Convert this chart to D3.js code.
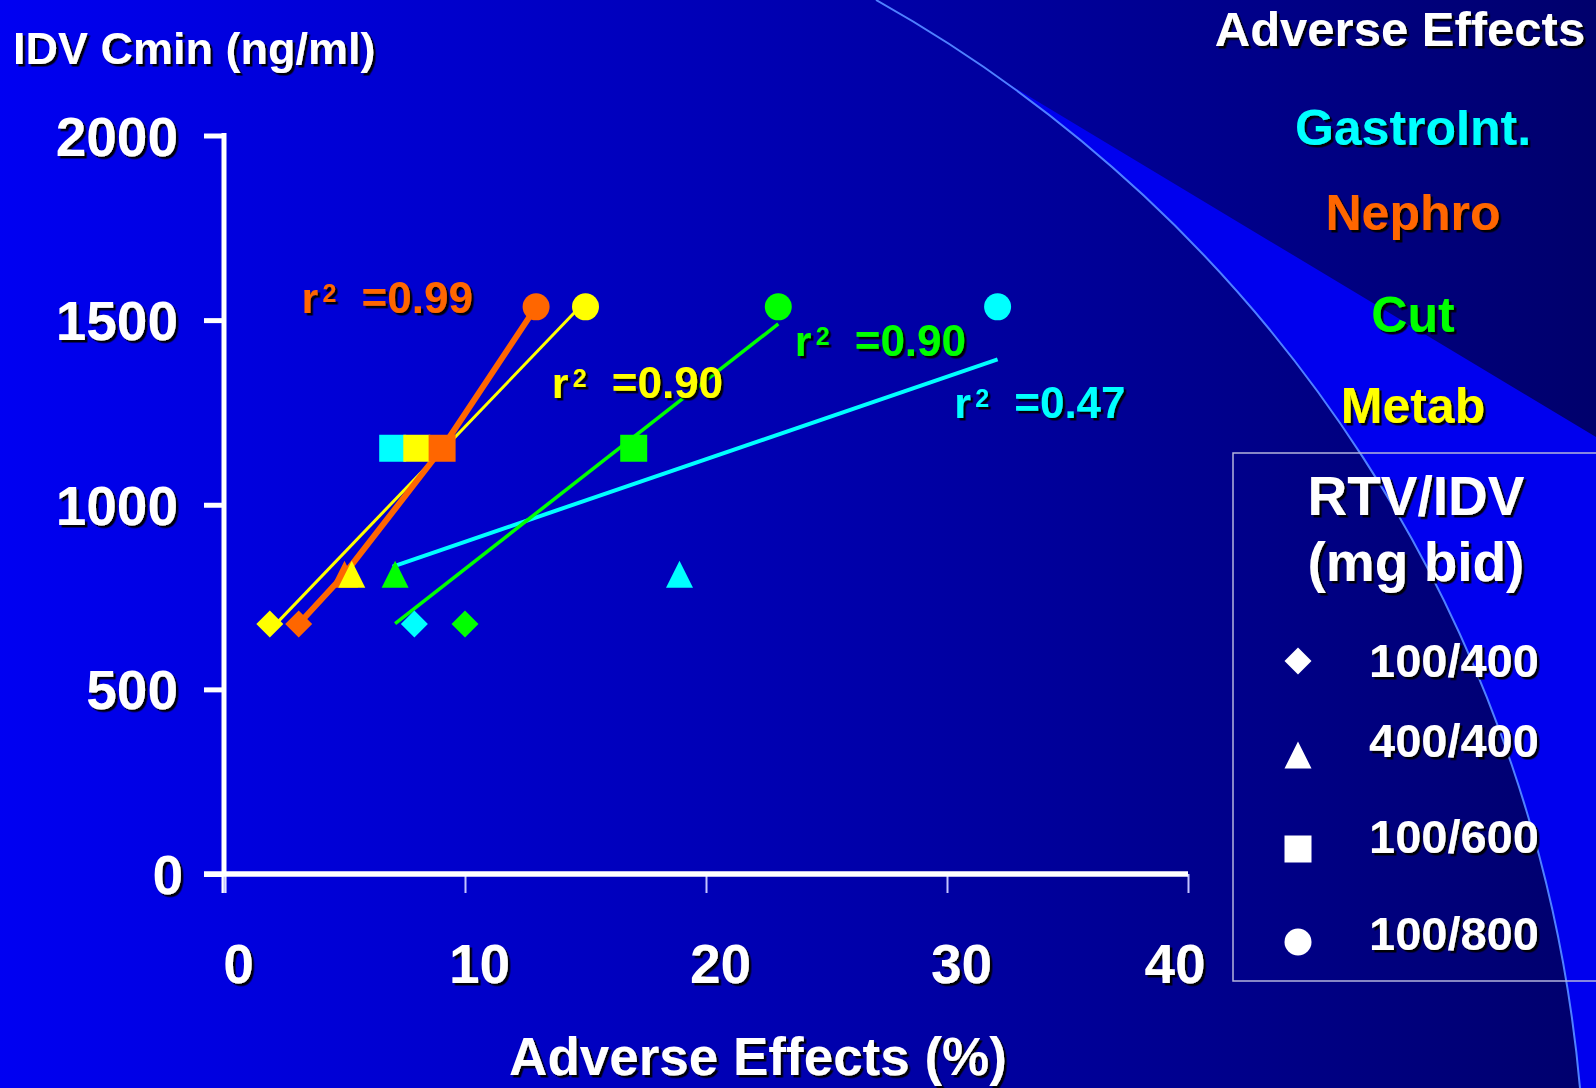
<!DOCTYPE html>
<html>
<head>
<meta charset="utf-8">
<script src="https://cdn.jsdelivr.net/npm/d3@7"></script>
<style>
  html, body { margin: 0; padding: 0; overflow: hidden; background: #000080; }
  text { font-family: "Liberation Sans", Arial, sans-serif; font-weight: bold; }
</style>
</head>
<body>
<div id="chart"></div>
<script>
// data
const doses = ['100/400', '400/400', '100/600', '100/800'];
const doseShapes = ['diamond', 'triangle', 'square', 'circle'];
const idvCmin = [677, 812, 1153, 1536];
const gastroAE = [7.9, 18.9, 7.0, 32.1];
const nephroAE = [3.1, 5.0, 9.05, 12.95];
const cutAE = [10.0, 7.1, 17.0, 23.0];
const metabAE = [1.9, 5.3, 8.0, 15.0];
const effectNames = ['GastroInt.', 'Nephro', 'Cut', 'Metab'];
const r2Values = ['=0.47', '=0.99', '=0.90', '=0.90'];
const xTicks = [0, 10, 20, 30, 40];
const yTicks = [0, 500, 1000, 1500, 2000];

const W = 1596, H = 1088;
const font = '"Liberation Sans", Arial, sans-serif';

const svg = d3.select('#chart').append('svg')
  .attr('width', W).attr('height', H);

const defs = svg.append('defs');
const grad = defs.append('linearGradient').attr('id', 'bg')
  .attr('x1', 0).attr('y1', 0).attr('x2', 1).attr('y2', 0);
grad.append('stop').attr('offset', '0%').attr('stop-color', '#0000f2');
grad.append('stop').attr('offset', '100%').attr('stop-color', '#00006c');

defs.append('filter').attr('id', 'sh')
  .attr('x', '-10%').attr('y', '-10%').attr('width', '130%').attr('height', '140%')
  .append('feDropShadow')
  .attr('dx', 2.5).attr('dy', 2.5).attr('stdDeviation', 0.4)
  .attr('flood-color', '#000').attr('flood-opacity', 0.95);

// background
svg.append('rect').attr('width', W).attr('height', H).attr('fill', 'url(#bg)');

// bright wedge right of the arc, below the diagonal
const R = 1389;
svg.append('path')
  .attr('d', `M995,76 L${W},437 L${W},${H} L1580,${H} A${R},${R} 0 0 0 995,76 Z`)
  .attr('fill', '#0000ee');
svg.append('path')
  .attr('d', `M876,0 A${R},${R} 0 0 1 1580,${H}`)
  .attr('fill', 'none').attr('stroke', '#4f80ff').attr('stroke-width', 2);

// scales
const x = d3.scaleLinear().domain([0, 40]).range([224, 1188]);
const y = d3.scaleLinear().domain([0, 2000]).range([874, 135.5]);

// y axis
const gy = svg.append('g').attr('transform', `translate(${x(0)},0)`)
  .call(d3.axisLeft(y).tickValues(yTicks).tickFormat(d3.format('d'))
    .tickSize(20).tickPadding(26));
gy.select('.domain').remove();
gy.selectAll('.tick line').attr('stroke', '#fff').attr('stroke-width', 5);
gy.selectAll('.tick text')
  .attr('fill', '#fff').attr('dy', '0.355em')
  .attr('x', d => d === 0 ? -41 : -46)
  .style('font-size', '55px').style('font-family', font)
  .attr('filter', 'url(#sh)');
svg.append('line')
  .attr('x1', x(0)).attr('x2', x(0))
  .attr('y1', y(2000) - 2.5).attr('y2', y(0) + 19)
  .attr('stroke', '#fff').attr('stroke-width', 5);

// x axis
const gx = svg.append('g').attr('transform', `translate(0,${y(0)})`)
  .call(d3.axisBottom(x).tickValues(xTicks).tickFormat(d3.format('d')).tickSize(19));
gx.select('.domain').remove();
gx.selectAll('.tick line').attr('stroke', '#c4c4ff').attr('stroke-width', 2);
gx.selectAll('.tick text')
  .attr('fill', '#fff').attr('y', 109).attr('dy', 0)
  .attr('x', d => d === 40 ? -13.5 : 14)
  .style('font-size', '55px').style('font-family', font)
  .attr('filter', 'url(#sh)');
svg.append('line')
  .attr('x1', x(0) - 20).attr('x2', x(40))
  .attr('y1', y(0)).attr('y2', y(0))
  .attr('stroke', '#fff').attr('stroke-width', 5.5);

// axis titles
svg.append('text').attr('x', 13).attr('y', 64)
  .attr('fill', '#fff').style('font-size', '45px')
  .attr('filter', 'url(#sh)').text('IDV Cmin (ng/ml)');
svg.append('text').attr('x', 758).attr('y', 1075).attr('text-anchor', 'middle')
  .attr('fill', '#fff').style('font-size', '53px')
  .attr('filter', 'url(#sh)').text('Adverse Effects (%)');

// series
const series = [
  { name: effectNames[0], ae: gastroAE, r2: r2Values[0], color: '#00ffff', width: 4, fit: true, lab: [30.3, 1234] },
  { name: effectNames[2], ae: cutAE, r2: r2Values[2], color: '#00ff00', width: 3.5, fit: true, lab: [23.68, 1403] },
  { name: effectNames[3], ae: metabAE, r2: r2Values[3], color: '#ffff00', width: 3, fit: true, lab: [13.6, 1288] },
  { name: effectNames[1], ae: nephroAE, r2: r2Values[1], color: '#ff6600', width: 6, fit: false, lab: [3.22, 1519] }
];

function linFit(xs, ys) {
  const mx = d3.mean(xs), my = d3.mean(ys);
  let sxy = 0, sxx = 0;
  xs.forEach((v, i) => { sxy += (v - mx) * (ys[i] - my); sxx += (v - mx) * (v - mx); });
  const b = sxy / sxx;
  return v => my + b * (v - mx);
}

const line = d3.line().x(d => x(d[0])).y(d => y(d[1]));
series.forEach(s => {
  let pts;
  if (s.fit) {
    const f = linFit(s.ae, idvCmin);
    const lo = d3.min(s.ae), hi = d3.max(s.ae);
    pts = [[lo, f(lo)], [hi, f(hi)]];
  } else {
    pts = s.ae.map((v, i) => [v, idvCmin[i]]);
  }
  svg.append('path').attr('d', line(pts))
    .attr('fill', 'none').attr('stroke', s.color)
    .attr('stroke-width', s.width).attr('stroke-linejoin', 'round');
});

function markerPath(shape, s) {
  const h = s / 2;
  if (shape === 'diamond') return `M0,${-h} L${h},0 L0,${h} L${-h},0 Z`;
  if (shape === 'triangle') return `M0,${-h} L${h},${h} L${-h},${h} Z`;
  if (shape === 'square') return `M${-h},${-h} H${h} V${h} H${-h} Z`;
  return d3.arc()({ innerRadius: 0, outerRadius: h, startAngle: 0, endAngle: 2 * Math.PI });
}
const markerSize = { diamond: 27, triangle: 27, square: 27, circle: 27 };

const points = [];
series.forEach(s => s.ae.forEach((v, i) => points.push({ ae: v, cmin: idvCmin[i], shape: doseShapes[i], color: s.color })));
points.sort((a, b) => a.ae - b.ae);
svg.append('g').selectAll('path').data(points).join('path')
  .attr('transform', d => `translate(${x(d.ae)},${y(d.cmin)})`)
  .attr('d', d => markerPath(d.shape, markerSize[d.shape]))
  .attr('fill', d => d.color);

// r² labels
series.forEach(s => {
  const lx = x(s.lab[0]), ly = y(s.lab[1]);
  const g = svg.append('g').attr('fill', s.color).attr('filter', 'url(#sh)');
  g.append('text').attr('x', lx).attr('y', ly).style('font-size', '43px').text('r');
  g.append('text').attr('x', lx + 21).attr('y', ly - 11).style('font-size', '25px').text('2');
  g.append('text').attr('x', lx + 60).attr('y', ly).style('font-size', '44px').text(s.r2);
});

// right header
svg.append('text').attr('x', 1400).attr('y', 46).attr('text-anchor', 'middle')
  .attr('fill', '#fff').style('font-size', '49px')
  .attr('filter', 'url(#sh)').text('Adverse Effects');
const headerColors = ['#00ffff', '#ff6600', '#00ff00', '#ffff00'];
const headerY = [145, 230, 332, 423];
effectNames.forEach((n, i) => {
  svg.append('text').attr('x', 1413).attr('y', headerY[i]).attr('text-anchor', 'middle')
    .attr('fill', headerColors[i]).style('font-size', '50px')
    .attr('filter', 'url(#sh)').text(n);
});

// dose legend
svg.append('rect').attr('x', 1233).attr('y', 453).attr('width', 400).attr('height', 528)
  .attr('fill', 'none').attr('stroke', '#b4b4dc').attr('stroke-width', 1.5);
svg.append('text').attr('x', 1416).attr('y', 515).attr('text-anchor', 'middle')
  .attr('fill', '#fff').style('font-size', '55px').attr('filter', 'url(#sh)').text('RTV/IDV');
svg.append('text').attr('x', 1416).attr('y', 581).attr('text-anchor', 'middle')
  .attr('fill', '#fff').style('font-size', '55px').attr('filter', 'url(#sh)').text('(mg bid)');
const legMarkY = [661, 755, 849, 942];
const legTextY = [677, 757, 853, 950];
doses.forEach((d, i) => {
  svg.append('path').attr('transform', `translate(1298,${legMarkY[i]})`)
    .attr('d', markerPath(doseShapes[i], markerSize[doseShapes[i]]))
    .attr('fill', '#fff');
  svg.append('text').attr('x', 1369).attr('y', legTextY[i])
    .attr('fill', '#fff').style('font-size', '47px')
    .attr('filter', 'url(#sh)').text(d);
});
</script>
</body>
</html>
